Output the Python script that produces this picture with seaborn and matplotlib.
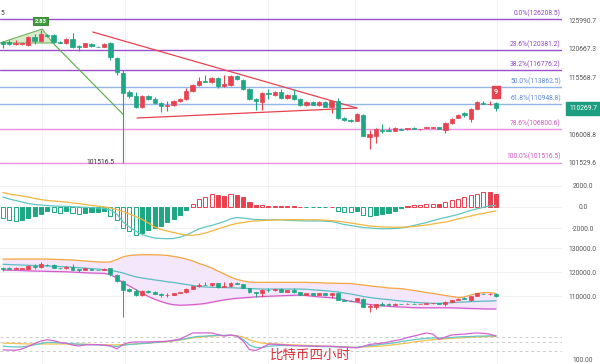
import numpy as np
import matplotlib
matplotlib.use("Agg")
import matplotlib.pyplot as plt
import matplotlib.transforms as mtrans
from matplotlib.patches import Polygon
from matplotlib.ticker import NullLocator
import seaborn as sns

# ---------------- data (4h BTC candles) ----------------
opens = [121932, 121932, 121564, 121564, 121377, 122860, 122117, 123234, 123234, 121932,
         121748, 122488, 121285, 121010, 121564, 121100, 121010, 121748, 119005, 116323,
         113014, 112330, 110471, 112330, 111820, 111142, 110638, 110805, 111480, 111820,
         113186, 114222, 114920, 114746, 115445, 114049, 114222, 115795, 115094, 113531,
         111820, 111311, 112843, 112500, 113014, 111990, 112500, 111820, 110805, 111311,
         110805, 111311, 110471, 111480, 108640, 108308, 108144, 109135, 105549, 105709,
         106757, 106676, 106515, 106920, 106838, 107001, 106806, 107001, 107082, 107163,
         106676, 107816, 108640, 109468, 108474, 110136, 111226, 110923, 111142]
closes = [121564, 121564, 121748, 121748, 122860, 122117, 123420, 123050, 121932, 121748,
          122488, 121010, 121100, 121748, 121193, 121010, 121564, 119185, 116501, 112843,
          112330, 110471, 112330, 111820, 111142, 110638, 110805, 111480, 111820, 113186,
          114222, 114920, 114746, 115445, 114049, 114396, 115795, 115270, 113531, 111820,
          111480, 112843, 112671, 113014, 111990, 112500, 111820, 110805, 111311, 110805,
          111311, 110471, 111480, 108640, 108308, 108144, 109301, 105709, 106031, 106838,
          106595, 106595, 107001, 106757, 107001, 106838, 106870, 107163, 107163, 106838,
          107816, 108474, 109135, 109135, 110136, 111311, 111058, 111024, 110269.7]
highs = [122117, 122302, 122302, 121800, 123050, 123420, 124174, 123420, 123420, 122025,
         122674, 123610, 121377, 121800, 121748, 121193, 121748, 121932, 119185, 116855,
         113358, 113014, 112500, 112500, 112160, 111311, 111480, 111649, 111990, 113703,
         114396, 115620, 115970, 115620, 115620, 115970, 115970, 115970, 115270, 113703,
         111990, 113014, 113531, 113186, 113531, 112671, 113531, 111990, 111480, 111480,
         111480, 111480, 111649, 111990, 108805, 108474, 109468, 109301, 106676, 107001,
         107652, 107163, 107163, 107001, 107082, 107163, 106920, 107245, 107245, 107245,
         107980, 108640, 109301, 109634, 110304, 111480, 111480, 111480, 111311]
lows = [120826, 121377, 121377, 121377, 121193, 121564, 121932, 122860, 121748, 121656,
        121564, 120900, 120277, 120950, 121010, 120920, 120950, 118642, 115970, 101516.5,
        111990, 110304, 110304, 111649, 110973, 109634, 109800, 110638, 111311, 111649,
        113014, 114049, 114700, 114570, 113703, 113876, 114049, 115094, 113358, 111649,
        109967, 109967, 111820, 112330, 111900, 111820, 111649, 110638, 110638, 110750,
        110638, 110400, 109468, 108474, 108144, 107980, 108100, 105650, 103641, 104590,
        106192, 106515, 106450, 106676, 106757, 106800, 106757, 106950, 107001, 106800,
        106192, 107652, 108600, 108805, 107980, 110100, 110973, 110805, 109800]

macd_hist = [-1050, -1200, -1290, -1200, -1050, -860, -670, -380, -480, -570,
             -380, -570, -670, -570, -480, -470, -380, -810, -1240, -2000,
             -2290, -2670, -2480, -2190, -2000, -1810, -1430, -1140, -760, -290,
             290, 760, 980, 1210, 1140, 1080, 1210, 1180, 980, 500,
             150, 160, 100, 110, 90, 95, 60, 30, -40, -45,
             -40, -30, 20, -400, -480, -500, -400, -800, -860, -760,
             -700, -570, -380, -120, 50, 150, 200, 250, 300, 290,
             480, 640, 800, 950, 1100, 1270, 1440, 1420, 1200]
macd_dif = [950, 760, 620, 480, 330, 240, 190, 140, 100, 70,
            70, 20, 0, -30, -60, -95, -140, -290, -670, -1430,
            -1900, -2290, -2620, -2810, -2950, -3000, -3020, -3000, -2860, -2670,
            -2380, -2090, -1900, -1760, -1570, -1380, -1140, -1000, -1050, -1140,
            -1190, -1210, -1220, -1220, -1220, -1270, -1290, -1310, -1330, -1330,
            -1330, -1350, -1380, -1520, -1670, -1760, -1860, -1950, -2000, -2050,
            -2070, -2070, -2050, -2000, -1900, -1760, -1620, -1480, -1300, -1140,
            -1000, -860, -710, -520, -330, -170, -30, 95, 160]
macd_dea = [1380, 1240, 1140, 1050, 950, 810, 710, 620, 570, 520,
            480, 380, 330, 240, 140, 95, 0, -95, -240, -430,
            -670, -900, -1190, -1520, -1900, -2140, -2290, -2430, -2570, -2670,
            -2690, -2620, -2480, -2290, -2090, -1900, -1710, -1570, -1480, -1380,
            -1330, -1290, -1260, -1240, -1220, -1210, -1210, -1210, -1210, -1210,
            -1220, -1260, -1300, -1360, -1430, -1520, -1620, -1710, -1810, -1860,
            -1900, -1920, -1930, -1930, -1900, -1860, -1780, -1710, -1620, -1520,
            -1430, -1290, -1140, -1000, -860, -710, -620, -480, -380]

bb_upper = [125600, 125600, 125600, 125600, 125600, 125600, 125600, 125600, 125500, 125400,
            125300, 125200, 125000, 124800, 124600, 124400, 124300, 124400, 125400, 126500,
            127100, 127300, 127400, 127400, 127350, 127300, 127100, 126700, 126250, 125600,
            124800, 123750, 122900, 121900, 120600, 119400, 118100, 117100, 116500, 116000,
            115900, 115900, 115900, 115900, 115900, 115900, 115900, 115900, 115900, 115800,
            115750, 115600, 115550, 115500, 115450, 115400, 115100, 114800, 114450, 114150,
            113900, 113550, 113400, 113300, 112900, 112500, 112100, 111650, 111300, 110850,
            110400, 110000, 109600, 109800, 110600, 111250, 111650, 111650, 111300]
bb_mid = [123400, 123300, 123200, 123100, 123000, 122900, 122800, 122700, 122600, 122450,
          122400, 122150, 122000, 121800, 121600, 121400, 121150, 120900, 120400, 119800,
          118950, 118200, 117700, 117300, 116900, 116550, 116150, 115850, 115400, 115000,
          114600, 114150, 113950, 113850, 113750, 113700, 113650, 113550, 113400, 113300,
          113200, 113100, 113100, 113100, 113100, 113100, 113100, 113100, 113000, 112800,
          112600, 112400, 112150, 111900, 111450, 111050, 110550, 110000, 109600, 109250,
          108950, 108700, 108400, 108100, 107900, 107600, 107400, 107300, 107150, 107150,
          107300, 107400, 107600, 107700, 107850, 107950, 108050, 108100, 108200]
bb_lower = [121040, 120950, 120900, 120800, 120700, 120600, 120550, 120450, 120400, 120350,
            120300, 120150, 120050, 119900, 119800, 119700, 119650, 119150, 117700, 115600,
            114400, 112900, 111450, 110000, 108850, 107900, 107100, 106550, 106350, 106450,
            106600, 106800, 107100, 107600, 108100, 108600, 108950, 109250, 109450, 109650,
            109850, 110000, 110100, 110200, 110300, 110400, 110500, 110600, 110400, 110100,
            109850, 109650, 109500, 109150, 108550, 108000, 107600, 107100, 106650, 106350,
            106100, 105900, 105750, 105600, 105500, 105350, 105300, 105300, 105300, 105300,
            105300, 105250, 105200, 105100, 105000, 104950, 104850, 104800, 104800]

kdj_j = [23, 22, 21, 27, 38, 51, 62, 68, 64, 56,
         52, 44, 40, 45, 46, 46, 44, 41, 27, 47,
         56, 58, 58, 58, 59, 60, 61, 66, 71, 84,
         98, 98, 98, 98, 91, 84, 89, 84, 62, 24,
         20, 33, 48, 48, 46, 44, 42, 41, 40, 39,
         39, 39, 39, 37, 35, 33, 32, 38, 47, 50,
         53, 58, 64, 69, 78, 84, 91, 98, 93, 69,
         80, 89, 91, 93, 96, 98, 96, 93, 84]
kdj_k = [39, 37, 36, 36, 40, 45, 51, 56, 56, 54,
         52, 50, 48, 47, 46, 45, 43, 40, 38, 43,
         47, 49, 51, 53, 56, 58, 61, 64, 68, 73,
         79, 83, 84, 86, 87, 87, 88, 85, 69, 44,
         33, 33, 39, 41, 42, 42, 41, 41, 40, 39,
         38, 37, 37, 36, 35, 34, 34, 38, 42, 44,
         48, 51, 54, 60, 64, 68, 71, 74, 76, 76,
         76, 78, 80, 81, 82, 84, 84, 85, 86]
kdj_d = [53, 52, 51, 50, 49, 49, 49, 49, 49, 49,
         49, 48, 48, 48, 47, 46, 46, 45, 45, 46,
         48, 49, 51, 52, 55, 57, 59, 62, 67, 71,
         76, 79, 82, 84, 86, 87, 87, 86, 80, 67,
         59, 53, 51, 49, 48, 46, 45, 44, 43, 42,
         41, 39, 38, 37, 36, 35, 34, 36, 37, 38,
         40, 43, 46, 50, 53, 58, 61, 65, 68, 70,
         72, 74, 76, 77, 79, 80, 81, 82, 83]
kdj_levels = [80, 56, 20]

fib_pcts = [0.0, 23.6, 38.2, 50.0, 61.8, 78.6, 100.0]
fib_prices = [126208.5, 120381.2, 116776.2, 113862.5, 110948.8, 106800.6, 101516.5]
price_ticks = [125990.7, 120667.3, 115568.7, 106008.8, 101529.6]
macd_ticks = [2000, 0, -2000]
bb_ticks = [130000, 120000, 110000]
last_price = 110269.7
swing_low = 101516.5
trend_upper_x, trend_upper_y = [14.2, 56.0], [123800, 110300]
trend_lower_x, trend_lower_y = [21.2, 56.0], [108640, 110300]
tri_x, tri_y = [-0.5, 6.2, 7.9], [121750, 124360, 121750]
gline_x, gline_y = [7.9, 19.1], [121750, 109135]
peak_tag = "2.83"
td_count = "9"
edge_tag = "5"
title_text = "比特币四小时"
bottom_label = "100.00"

# ---------------- style ----------------
sns.set_theme(style="white")
plt.rcParams['font.family'] = ['Roboto', 'Noto Sans CJK SC', 'DejaVu Sans']

RED = '#e8414f'
GREEN = '#1ea784'
TICKC = '#555555'
FS = 4.9
W, H = 600, 364
PR = 562
fig = plt.figure(figsize=(W / 100, H / 100), dpi=100)

n = len(opens)
idx = np.arange(n)
XLIM = (-0.475, 88.45)
grid_x = [6.2, 19.3, 41.9, 55.7, 78.2]


def panel(top, bottom):
    ax = fig.add_axes([0, 1 - bottom / H, PR / W, (bottom - top) / H])
    ax.set_xlim(*XLIM)
    for s in ax.spines.values():
        s.set_visible(False)
    ax.set_xticks(grid_x)
    ax.set_xticklabels([])
    ax.tick_params(axis='x', length=0)
    ax.grid(True, axis='x', color='#f1f1f1', lw=0.6)
    return ax


def right_ticks(ax, ticks, labels, grid=True):
    ax.set_yticks(ticks)
    ax.set_yticklabels(labels)
    ax.yaxis.set_minor_locator(NullLocator())
    ax.yaxis.tick_right()
    ax.tick_params(axis='y', length=0, pad=15.1, labelsize=FS, labelcolor=TICKC)
    for lab in ax.get_yticklabels():
        lab.set_horizontalalignment('center')
    if grid:
        ax.grid(True, axis='y', color='#efefef', lw=0.6)


def draw_candles(ax, body_w, wick_lw):
    o = np.array(opens, float)
    c = np.array(closes, float)
    cols = np.where(c >= o, RED, GREEN)
    ax.vlines(idx, lows, highs, colors=cols, lw=wick_lw, zorder=3)
    ax.bar(idx, np.abs(c - o), bottom=np.minimum(o, c), width=body_w,
           color=cols, edgecolor=cols, linewidth=0.5, zorder=4)


# ---------------- main price panel ----------------
ax1 = panel(0, 172)
ax1.set_yscale('log')
ax1.set_ylim(100087, 129963)
right_ticks(ax1, price_ticks, [f"{t:.1f}" for t in price_ticks], grid=False)
ax1.yaxis.set_minor_locator(NullLocator())

line_cols = ['#9b4fcf'] * 3 + ['#92b6ea'] * 2 + ['#ea8fe2'] * 2
text_cols = ['#9346c8'] * 3 + ['#5c87d6'] * 2 + ['#d35ac6'] * 2
bl = mtrans.blended_transform_factory(ax1.transAxes, ax1.transData)
for pct, pr, lc, tc in zip(fib_pcts, fib_prices, line_cols, text_cols):
    ax1.axhline(pr, color=lc, lw=1.0, zorder=1)
    ax1.annotate(f"{pct:.1f}%({pr:.1f})", xy=(0.998, pr), xycoords=bl,
                 xytext=(0, 1.6), textcoords='offset points',
                 ha='right', va='bottom', fontsize=FS, color=tc)

tri = Polygon(list(zip(tri_x, tri_y)), closed=True, facecolor='#cfe9c4',
              edgecolor='#5aa946', lw=0.8, alpha=0.85, zorder=2)
ax1.add_patch(tri)
ax1.plot(gline_x, gline_y, color='#5aa946', lw=0.8, zorder=2)
ax1.plot(trend_upper_x, trend_upper_y, color=RED, lw=0.9, zorder=2)
ax1.plot(trend_lower_x, trend_lower_y, color=RED, lw=0.9, zorder=2)

draw_candles(ax1, 0.68, 0.8)

ax1.annotate(peak_tag, xy=(6, highs[6]), xytext=(0, 4.5), textcoords='offset points',
             ha='center', va='bottom', fontsize=4.3, color='white', weight='bold',
             bbox=dict(boxstyle='square,pad=0.25', fc='#3f9a3a', ec='#2e7d32', lw=0.6),
             zorder=6)
ax1.annotate(td_count, xy=(78, max(highs[77:79])), xytext=(0, 3.5), textcoords='offset points',
             ha='center', va='bottom', fontsize=5.2, color='white', weight='bold',
             bbox=dict(boxstyle='square,pad=0.3', fc=RED, ec=RED), zorder=6)
ax1.annotate(f"{swing_low:.1f}", xy=(19, lows[19]), xytext=(-6.5, 0),
             textcoords='offset points', ha='right', va='center', fontsize=FS, color='#333333')
ax1.annotate(edge_tag, xy=(0, fib_prices[0]), xycoords=bl, xytext=(0.3, 1.8),
             textcoords='offset points', ha='left', va='bottom', fontsize=FS, color='#333333')
ax1.annotate(f"{last_price:.1f}", xy=(1.0, last_price), xycoords=bl,
             xytext=(15.3, 0), textcoords='offset points', ha='center', va='center',
             fontsize=FS, color='white',
             bbox=dict(boxstyle='square,pad=0.45', fc='#1e9e80', ec='#1e9e80'),
             annotation_clip=False, zorder=7)

# ---------------- MACD panel ----------------
ax2 = panel(173, 240)
ax2.set_ylim(-3142, 3237)
right_ticks(ax2, macd_ticks, [f"{t:.1f}" for t in macd_ticks])
h = np.array(macd_hist, float)
hcols = np.where(h >= 0, RED, GREEN)
prev = np.concatenate([[0.0], np.abs(h[:-1])])
hollow = np.abs(h) >= prev
faces = np.where(hollow, 'white', hcols)
ax2.bar(idx, h, width=0.64, color=faces, edgecolor=hcols, linewidth=0.7, zorder=3)
sns.lineplot(x=idx, y=macd_dif, ax=ax2, color='#5fc6c0', linewidth=0.9, zorder=4)
sns.lineplot(x=idx, y=macd_dea, ax=ax2, color='#f3b53f', linewidth=0.9, zorder=4)
ax2.set_ylabel('')

# ---------------- Bollinger panel ----------------
ax3 = panel(240, 322)
ax3.set_ylim(99373, 133540)
right_ticks(ax3, bb_ticks, [f"{t:.1f}" for t in bb_ticks])
ax3.fill_between(idx, bb_lower, bb_upper, color='#f4e6fb', zorder=1)
sns.lineplot(x=idx, y=bb_upper, ax=ax3, color='#f4a640', linewidth=0.9, zorder=2)
sns.lineplot(x=idx, y=bb_mid, ax=ax3, color='#5bbcc2', linewidth=0.9, zorder=2)
sns.lineplot(x=idx, y=bb_lower, ax=ax3, color='#d65ccc', linewidth=0.9, zorder=2)
draw_candles(ax3, 0.62, 0.7)
ax3.set_ylabel('')

# ---------------- KDJ panel ----------------
ax4 = panel(322, 364)
ax4.set_ylim(-39.9, 146.6)
ax4.set_yticks([])
for lv in kdj_levels:
    ax4.axhline(lv, color='#cccccc', lw=0.7, ls=(0, (3, 3)), zorder=1)
sns.lineplot(x=idx, y=kdj_d, ax=ax4, color='#f2c14e', linewidth=0.9, zorder=2)
sns.lineplot(x=idx, y=kdj_k, ax=ax4, color='#62c6c6', linewidth=0.9, zorder=3)
sns.lineplot(x=idx, y=kdj_j, ax=ax4, color='#d763d3', linewidth=0.9, zorder=4)
ax4.set_ylabel('')

fig.text(583 / W, 1 - 361 / H, bottom_label, ha='center', va='center', fontsize=FS, color=TICKC)
fig.text(310 / W, 1 - 355 / H, title_text, ha='center', va='center', fontsize=9.7,
         color='#e0303c', family=['Noto Sans CJK SC', 'DejaVu Sans'], zorder=10)

fig.savefig('out.png', dpi=100)
